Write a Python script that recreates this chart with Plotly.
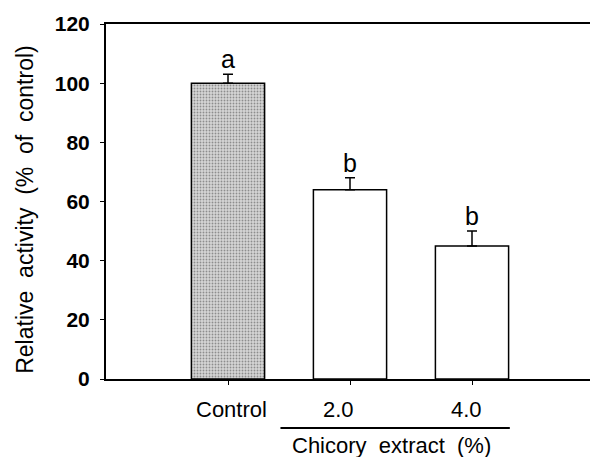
import plotly.graph_objects as go

categories = ["Control", "2.0", "4.0"]
values = [100, 64, 45]
errors = [3, 4, 5]
letters = ["a", "b", "b"]
group_label = "Chicory\u00a0 extract\u00a0 (%)"
y_title = "Relative\u00a0 activity\u00a0 (%\u00a0 of\u00a0 control)"
y_ticks = [0, 20, 40, 60, 80, 100, 120]

xpos = list(range(len(categories)))

fig = go.Figure()
fig.add_trace(go.Bar(
    x=xpos, y=values, width=0.6,
    marker=dict(
        color=["#d6d6d6", "white", "white"],
        line=dict(color="black", width=1.5),
        pattern=dict(shape=[".", "", ""], fgcolor="#8c8c8c", size=3, solidity=0.3),
    ),
    error_y=dict(type="data", array=errors, arrayminus=[0, 0, 0], symmetric=False,
                 color="black", thickness=1.5, width=5),
    showlegend=False,
))

font_fam = "Liberation Sans, Arial, sans-serif"

annotations = []
for i, (v, e, l) in enumerate(zip(values, errors, letters)):
    annotations.append(dict(x=i, y=v + e, text=l, showarrow=False, xref="x", yref="y",
                            yanchor="bottom", yshift=-1,
                            font=dict(family=font_fam, size=25, color="black")))
shifts = [3, -12, -6]
for i, c in enumerate(categories):
    annotations.append(dict(x=i, y=-0.087, text=c, showarrow=False, xref="x", yref="paper",
                            xshift=shifts[i], yanchor="middle",
                            font=dict(family=font_fam, size=22, color="black", weight="normal")))
annotations.append(dict(x=1.34, y=-0.186, text=group_label, showarrow=False, xref="x", yref="paper",
                        yanchor="middle", font=dict(family=font_fam, size=22, color="black")))
annotations.append(dict(x=-0.165, y=0.478, text=y_title, showarrow=False, xref="paper", yref="paper",
                        textangle=-90, xanchor="center", yanchor="middle",
                        font=dict(family=font_fam, size=23, color="black")))

fig.update_layout(
    width=590, height=449,
    margin=dict(l=98, r=2, t=16, b=78),
    plot_bgcolor="white", paper_bgcolor="white",
    annotations=annotations,
    shapes=[dict(type="line", xref="x", yref="paper", x0=0.43, x1=2.31, y0=-0.138, y1=-0.138,
                 line=dict(color="black", width=2))],
    xaxis=dict(range=[-1, 3], showgrid=False, zeroline=False, showline=True, linecolor="black",
               linewidth=2, mirror=True, ticks="outside", ticklen=4, tickcolor="black",
               tickvals=xpos, showticklabels=False),
    yaxis=dict(range=[0, 120], tickvals=y_ticks, showgrid=False, zeroline=False, showline=True,
               linecolor="black", linewidth=2, mirror=True, ticks="outside", ticklen=4,
               tickcolor="black", ticklabelstandoff=6,
               tickfont=dict(family=font_fam, size=21, color="black", weight="bold")),
)

fig.write_html("out.html")
